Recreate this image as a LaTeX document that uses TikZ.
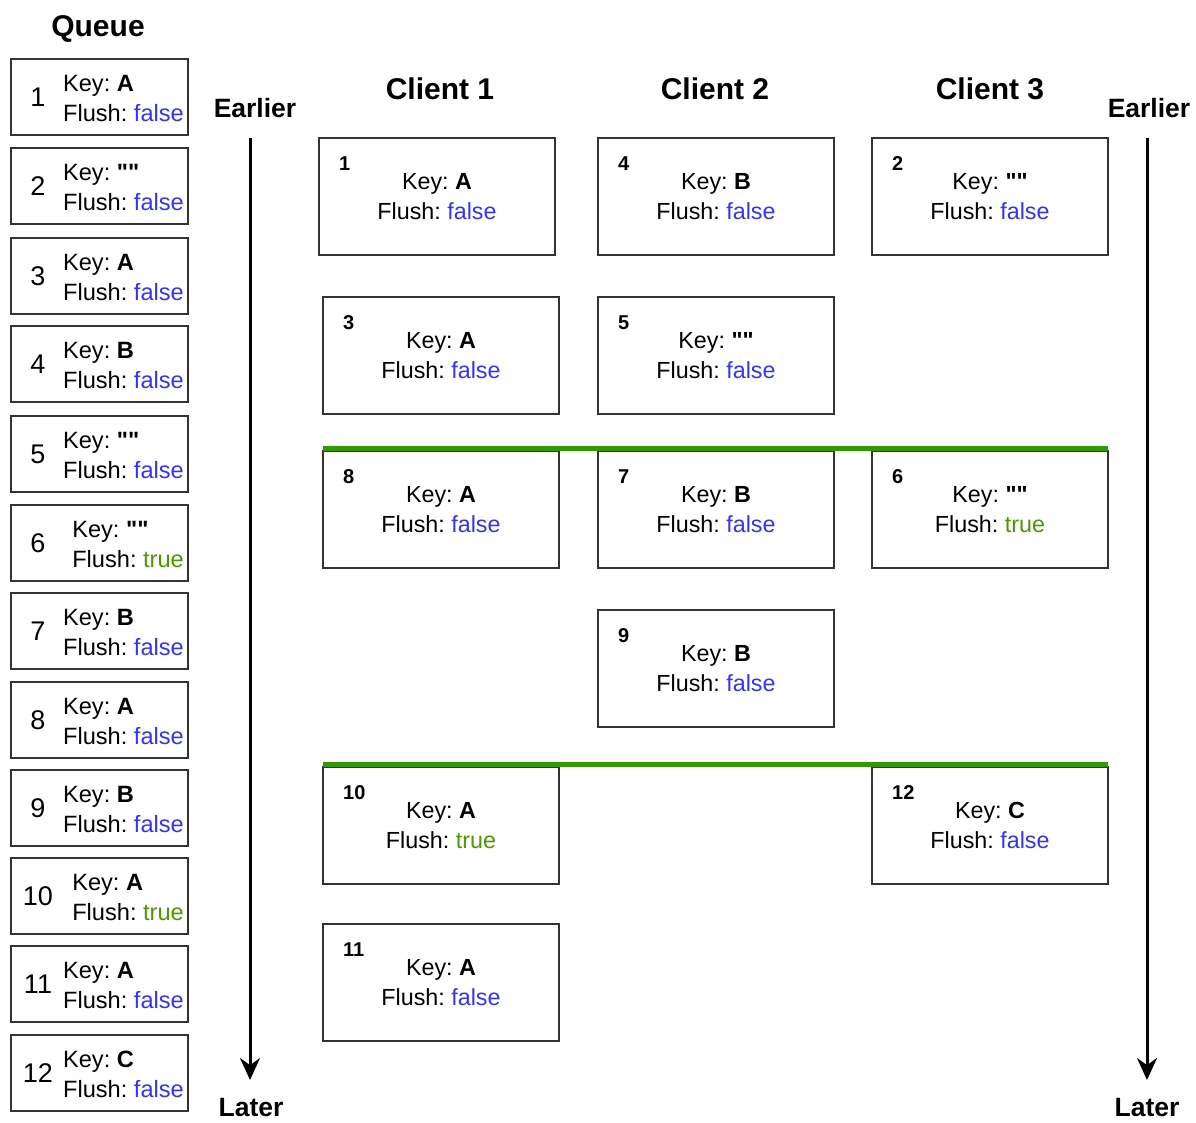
\documentclass[tikz,border=0pt]{standalone}
\usepackage{fontspec}
\setmainfont{Liberation Sans}
\newfontfamily\plainqfont{Liberation Sans}
\usetikzlibrary{arrows.meta}
\definecolor{fblue}{RGB}{51,51,255}
\definecolor{tgreen}{RGB}{77,153,0}
\definecolor{lgreen}{RGB}{51,153,0}
\definecolor{bgray}{RGB}{51,51,51}
\frenchspacing
\newcommand{\fl}{\textcolor{fblue}{false}}
\newcommand{\tr}{\textcolor{tgreen}{true}}
\newcommand{\qk}{{\plainqfont\bfseries ""}}
\begin{document}
\begin{tikzpicture}[x=1pt,y=-1pt,
  qbox/.style={draw=bgray, line width=2pt, minimum width=177pt, minimum height=76pt, inner sep=0pt},
  cbox/.style={draw=bgray, line width=2pt, minimum width=236pt, minimum height=117pt, inner sep=0pt,
     align=center, font=\fontsize{23.3}{30}\selectfont},
  qtxt/.style={anchor=east, align=left, inner sep=0pt, font=\fontsize{23.6}{30}\selectfont},
  qnum/.style={inner sep=0pt, font=\fontsize{27}{30}\selectfont},
  cnum/.style={anchor=west, inner sep=0pt, font=\fontsize{20}{24}\selectfont\bfseries},
  title/.style={inner sep=0pt, font=\fontsize{30}{34}\selectfont\bfseries},
  side/.style={inner sep=0pt, font=\fontsize{26.5}{30}\selectfont\bfseries},
  timeline/.style={line width=3pt, -{Stealth[length=22pt,width=20pt]}},
  sep/.style={lgreen, line width=5pt}
]
\useasboundingbox (0,0) rectangle (1196,1122);

% Queue
\node[title, anchor=base] (qt) at (98,36) {Queue};
\foreach \i/\t/\k/\f in {1/59/A/\fl, 2/148/\qk/\fl, 3/238/A/\fl, 4/326/B/\fl, 5/416/\qk/\fl, 6/505/\qk/\tr,
   7/593/B/\fl, 8/682/A/\fl, 9/770/B/\fl, 10/858/A/\tr, 11/946/A/\fl, 12/1035/C/\fl}{
  \node[qbox] (q\i) at (99.5,\t+38) {};
  \node[qnum] (qn\i) at (38,\t+38) {\i};
  \node[qtxt] (qx\i) at (184,\t+39) {Key: \textbf{\k}\\Flush: \f};
}

% Headers
\node[title] (h1) at (440,89) {Client 1};
\node[title] (h2) at (715,89) {Client 2};
\node[title] (h3) at (990,89) {Client 3};
\node[side] (e1) at (255,108) {Earlier};
\node[side] (e2) at (1149,108) {Earlier};
\node[side] (l1) at (251,1107) {Later};
\node[side] (l2) at (1147,1107) {Later};

% Timelines
\coordinate (t1s) at (250,138); \coordinate (t1e) at (250,1080);
\coordinate (t2s) at (1147,138); \coordinate (t2e) at (1147,1080);
\draw[timeline] (t1s) -- (t1e);
\draw[timeline] (t2s) -- (t2e);

% Client boxes
\foreach \n/\l/\t/\k/\f in {1/319/138/A/\fl, 3/323/297/A/\fl, 8/323/451/A/\fl, 10/323/767/A/\tr, 11/323/924/A/\fl,
   4/598/138/B/\fl, 5/598/297/\qk/\fl, 7/598/451/B/\fl, 9/598/610/B/\fl,
   2/872/138/\qk/\fl, 6/872/451/\qk/\tr, 12/872/767/C/\fl}{
  \node[cbox] (c\n) at (\l+118,\t+58.5) {Key: \textbf{\k}\\Flush: \f};
  \node[cnum] (cn\n) at (\l+20,\t+26) {\n};
}

% Separators
\coordinate (s1a) at (323,448); \coordinate (s1b) at (1108,448);
\coordinate (s2a) at (323,764); \coordinate (s2b) at (1108,764);
\draw[sep] (s1a) -- (s1b);
\draw[sep] (s2a) -- (s2b);
\end{tikzpicture}
\end{document}
